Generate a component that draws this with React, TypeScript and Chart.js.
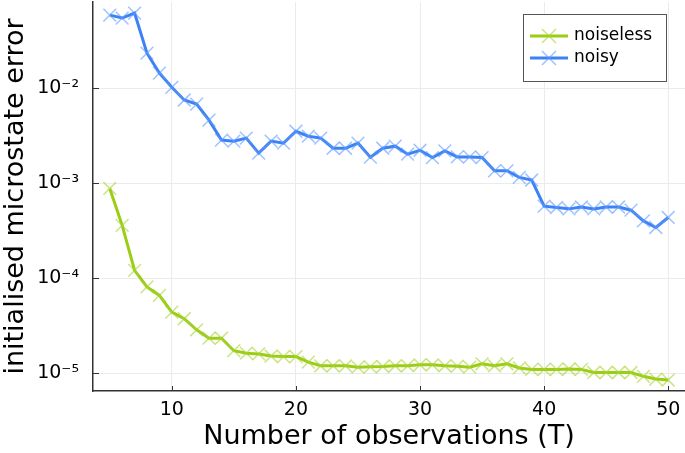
import { useEffect, useRef } from "react";
import { Chart, registerables } from "chart.js";

Chart.register(...registerables);

const observations = [
  5, 6, 7, 8, 9, 10, 11, 12, 13, 14, 15, 16, 17, 18, 19, 20, 21, 22, 23, 24, 25, 26, 27,
  28, 29, 30, 31, 32, 33, 34, 35, 36, 37, 38, 39, 40, 41, 42, 43, 44, 45, 46, 47, 48, 49, 50,
];

const noiseless = [
  8.8e-4, 3.6e-4, 1.21e-4, 8.1e-5, 6.6e-5, 4.4e-5, 3.75e-5, 2.87e-5, 2.34e-5, 2.34e-5,
  1.73e-5, 1.63e-5, 1.6e-5, 1.52e-5, 1.5e-5, 1.5e-5, 1.31e-5, 1.2e-5, 1.2e-5, 1.2e-5,
  1.16e-5, 1.17e-5, 1.18e-5, 1.2e-5, 1.2e-5, 1.23e-5, 1.23e-5, 1.2e-5, 1.19e-5, 1.16e-5,
  1.26e-5, 1.2e-5, 1.26e-5, 1.14e-5, 1.1e-5, 1.1e-5, 1.1e-5, 1.11e-5, 1.1e-5, 1.02e-5,
  1.02e-5, 1.02e-5, 1.02e-5, 9.3e-6, 8.7e-6, 8.5e-6,
];

const noisy = [
  0.0586, 0.0546, 0.0616, 0.0233, 0.0144, 0.0102, 0.0075, 0.0068, 0.0046, 0.00284,
  0.00277, 0.00298, 0.00207, 0.00277, 0.00264, 0.00352, 0.00312, 0.00298, 0.00233, 0.00233,
  0.00264, 0.00188, 0.00233, 0.00245, 0.00202, 0.00222, 0.00186, 0.00219, 0.00189, 0.00189,
  0.00186, 0.00135, 0.00135, 0.00115, 0.00108, 0.000573, 0.000555, 0.000537, 0.000562, 0.000537,
  0.000562, 0.000562, 0.00052, 0.000401, 0.000342, 0.000436,
];

const seriesNames = ["noiseless", "noisy"];
const xTickValues = [10, 20, 30, 40, 50];
const yTickValues = [1e-5, 1e-4, 1e-3, 1e-2];
const yTickLabels = ["10⁻⁵", "10⁻⁴", "10⁻³", "10⁻²"];
const xTitle = "Number of observations (T)";
const yTitle = "initialised microstate error";

const FONT = "'DejaVu Sans', sans-serif";
const lineColors = ["rgb(155,205,20)", "rgb(60,130,245)"];
const markerColors = ["rgba(165,212,50,0.6)", "rgba(95,155,255,0.6)"];

const insideTicks = {
  id: "insideTicks",
  afterDraw(chart: any) {
    const { ctx, chartArea, scales } = chart;
    ctx.save();
    ctx.strokeStyle = "#333";
    ctx.lineWidth = 1;
    for (const v of xTickValues) {
      const px = Math.round(scales.x.getPixelForValue(v)) + 0.5;
      ctx.beginPath();
      ctx.moveTo(px, chartArea.bottom);
      ctx.lineTo(px, chartArea.bottom - 5);
      ctx.stroke();
    }
    for (const v of yTickValues) {
      const py = Math.round(scales.y.getPixelForValue(v)) + 0.5;
      ctx.beginPath();
      ctx.moveTo(chartArea.left, py);
      ctx.lineTo(chartArea.left + 6, py);
      ctx.stroke();
    }
    ctx.restore();
  },
};

const boxLegend = {
  id: "boxLegend",
  afterDraw(chart: any) {
    const { ctx, chartArea } = chart;
    const w = 143;
    const h = 67;
    const x0 = chartArea.right - 19 - w;
    const y0 = chartArea.top + 12;
    ctx.save();
    ctx.fillStyle = "#fff";
    ctx.fillRect(x0, y0, w, h);
    ctx.strokeStyle = "#555";
    ctx.lineWidth = 1;
    ctx.strokeRect(Math.round(x0) + 0.5, Math.round(y0) + 0.5, w, h);
    chart.data.datasets.forEach((ds: any, i: number) => {
      const cy = y0 + 22 + i * 22;
      ctx.strokeStyle = ds.borderColor;
      ctx.lineWidth = 3;
      ctx.beginPath();
      ctx.moveTo(x0 + 7, cy);
      ctx.lineTo(x0 + 45, cy);
      ctx.stroke();
      ctx.strokeStyle = ds.pointBorderColor;
      ctx.lineWidth = 1.5;
      const r = 7;
      const cx = x0 + 26;
      ctx.beginPath();
      ctx.moveTo(cx - r, cy - r);
      ctx.lineTo(cx + r, cy + r);
      ctx.moveTo(cx - r, cy + r);
      ctx.lineTo(cx + r, cy - r);
      ctx.stroke();
      ctx.fillStyle = "#000";
      ctx.font = `17px ${FONT}`;
      ctx.textBaseline = "middle";
      ctx.textAlign = "left";
      ctx.fillText(ds.label, x0 + 51, cy);
    });
    ctx.restore();
  },
};

export default function App() {
  const ref = useRef<HTMLCanvasElement | null>(null);

  useEffect(() => {
    document.body.style.margin = "0";
    const canvas = ref.current;
    if (!canvas) return;
    const series = [noiseless, noisy];
    const chart = new Chart(canvas, {
      type: "line",
      data: {
        datasets: series.map((vals, i) => ({
          label: seriesNames[i],
          data: observations.map((x, j) => ({ x, y: vals[j] })),
          borderColor: lineColors[i],
          borderWidth: 3,
          pointStyle: "crossRot",
          pointRadius: 9,
          pointBorderWidth: 1.5,
          pointBorderColor: markerColors[i],
          pointBackgroundColor: markerColors[i],
          tension: 0,
          fill: false,
        })),
      },
      options: {
        responsive: false,
        animation: false,
        devicePixelRatio: 1,
        layout: { autoPadding: false, padding: { top: 2, right: 0, left: 0, bottom: 0 } },
        plugins: {
          legend: { display: false },
          tooltip: { enabled: false },
        },
        scales: {
          x: {
            type: "linear",
            min: 3.65,
            max: 51.35,
            afterBuildTicks: (s: any) => {
              s.ticks = xTickValues.map((v) => ({ value: v }));
            },
            afterFit: (s: any) => {
              s.height = 62;
              s.paddingLeft = 0;
              s.paddingRight = 0;
              s.paddingTop = 0;
              s.paddingBottom = 0;
            },
            grid: { color: "#ebebeb", lineWidth: 1, drawTicks: false },
            border: { color: "#333", width: 1.5 },
            ticks: {
              color: "#000",
              font: { family: FONT, size: 19 },
              padding: 8,
              maxRotation: 0,
              callback: (v: any) => String(v),
            },
            title: {
              display: true,
              text: xTitle,
              color: "#000",
              font: { family: FONT, size: 27 },
              padding: { top: 0, bottom: 0 },
            },
          },
          y: {
            type: "logarithmic",
            min: Math.pow(10, -5.186),
            max: Math.pow(10, -1.094),
            afterBuildTicks: (s: any) => {
              s.ticks = yTickValues.map((v) => ({ value: v }));
            },
            afterFit: (s: any) => {
              s.width = 93;
              s.paddingLeft = 0;
              s.paddingRight = 0;
              s.paddingTop = 0;
              s.paddingBottom = 0;
            },
            grid: { color: "#ebebeb", lineWidth: 1, drawTicks: false },
            border: { color: "#333", width: 1.5 },
            ticks: {
              color: "#000",
              font: { family: FONT, size: 19 },
              padding: 14,
              callback: (v: any) => {
                const k = yTickValues.indexOf(Number(v));
                return k >= 0 ? yTickLabels[k] : "";
              },
            },
            title: {
              display: true,
              text: yTitle,
              color: "#000",
              font: { family: FONT, size: 27 },
              padding: { top: 0, bottom: 0 },
            },
          },
        },
      },
      plugins: [insideTicks, boxLegend],
    });
    return () => chart.destroy();
  }, []);

  return (
    <div style={{ width: 685, height: 453 }}>
      <canvas ref={ref} width={685} height={453} style={{ display: "block" }} />
    </div>
  );
}
